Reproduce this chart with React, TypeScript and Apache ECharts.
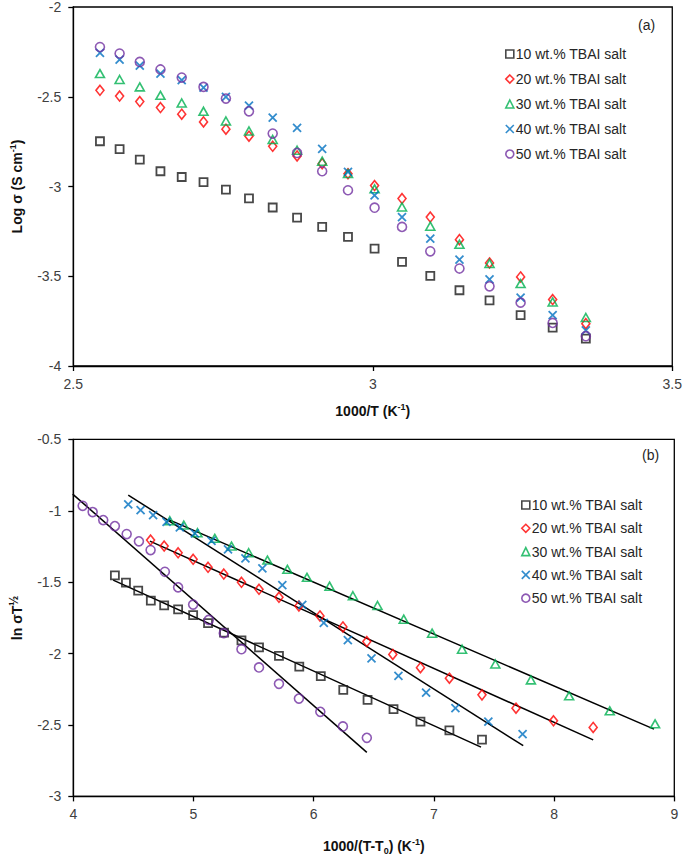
import React, { useEffect, useRef } from "react";
import * as echarts from "echarts";

// ---------- (a) Arrhenius plot ----------
const invT = [2.5445, 2.5773, 2.611, 2.6455, 2.681, 2.7174, 2.7548, 2.7933, 2.8329, 2.8736, 2.9155, 2.9586, 3.003, 3.0488, 3.096, 3.1447, 3.1949, 3.2468, 3.3003, 3.3557];
const logS10 = [-2.748, -2.792, -2.85, -2.915, -2.947, -2.976, -3.017, -3.066, -3.117, -3.173, -3.225, -3.281, -3.346, -3.42, -3.498, -3.578, -3.634, -3.717, -3.786, -3.847];
const logS20 = [-2.464, -2.496, -2.527, -2.56, -2.597, -2.64, -2.681, -2.72, -2.776, -2.83, -2.873, -2.929, -2.995, -3.067, -3.17, -3.296, -3.426, -3.504, -3.63, -3.764];
const logS30 = [-2.371, -2.404, -2.445, -2.492, -2.535, -2.581, -2.635, -2.691, -2.738, -2.798, -2.859, -2.928, -3.013, -3.114, -3.221, -3.322, -3.429, -3.541, -3.643, -3.73];
const logS40 = [-2.256, -2.293, -2.326, -2.371, -2.408, -2.449, -2.501, -2.549, -2.616, -2.673, -2.791, -2.919, -3.05, -3.17, -3.29, -3.407, -3.518, -3.619, -3.717, -3.801];
const logS50 = [-2.223, -2.259, -2.306, -2.348, -2.393, -2.445, -2.51, -2.581, -2.705, -2.813, -2.915, -3.021, -3.118, -3.225, -3.361, -3.457, -3.556, -3.647, -3.76, -3.834];

// ---------- (b) VTF plot ----------
const vx10 = [4.346, 4.438, 4.54, 4.645, 4.756, 4.872, 4.997, 5.121, 5.254, 5.399, 5.545, 5.711, 5.88, 6.059, 6.246, 6.448, 6.664, 6.888, 7.129, 7.4];
const vy10 = [-1.452, -1.503, -1.559, -1.629, -1.662, -1.69, -1.731, -1.787, -1.853, -1.908, -1.957, -2.016, -2.091, -2.158, -2.254, -2.324, -2.389, -2.476, -2.538, -2.603];
const vx20 = [4.643, 4.756, 4.872, 4.997, 5.121, 5.252, 5.399, 5.545, 5.711, 5.877, 6.052, 6.243, 6.442, 6.658, 6.888, 7.129, 7.4, 7.683, 7.995, 8.325];
const vy20 = [-1.205, -1.247, -1.294, -1.34, -1.396, -1.443, -1.501, -1.55, -1.606, -1.666, -1.736, -1.813, -1.916, -2.006, -2.099, -2.172, -2.289, -2.382, -2.471, -2.517];
const vx30 = [4.803, 4.919, 5.033, 5.177, 5.316, 5.459, 5.615, 5.781, 5.944, 6.132, 6.326, 6.531, 6.749, 6.985, 7.234, 7.511, 7.807, 8.125, 8.463, 8.84];
const vy30 = [-1.07, -1.1, -1.154, -1.193, -1.247, -1.294, -1.345, -1.41, -1.466, -1.528, -1.595, -1.663, -1.759, -1.857, -1.969, -2.073, -2.184, -2.296, -2.401, -2.492];
const vx40 = [4.457, 4.56, 4.664, 4.776, 4.886, 5.011, 5.15, 5.287, 5.432, 5.573, 5.739, 5.905, 6.084, 6.284, 6.481, 6.705, 6.935, 7.179, 7.453, 7.738];
const vy40 = [-0.955, -0.995, -1.03, -1.077, -1.116, -1.158, -1.21, -1.27, -1.333, -1.403, -1.52, -1.659, -1.785, -1.906, -2.034, -2.156, -2.273, -2.382, -2.476, -2.564];
const vx50 = [3.995, 4.078, 4.161, 4.249, 4.346, 4.444, 4.546, 4.643, 4.762, 4.872, 4.997, 5.127, 5.252, 5.399, 5.545, 5.711, 5.877, 6.055, 6.243, 6.442];
const vy50 = [-0.92, -0.965, -1.009, -1.065, -1.107, -1.163, -1.214, -1.275, -1.427, -1.536, -1.657, -1.764, -1.857, -1.969, -2.097, -2.212, -2.315, -2.408, -2.51, -2.59];

// linear fit end points (x, y)
const fit10 = [[4.332, -1.485], [7.392, -2.655]];
const fit20 = [[4.637, -1.212], [8.325, -2.604]];
const fit30 = [[4.789, -1.06], [8.831, -2.529]];
const fit40 = [[4.457, -0.89], [7.743, -2.645]];
const fit50 = [[3.995, -0.883], [6.442, -2.692]];

const seriesNames = ["10 wt.% TBAI salt", "20 wt.% TBAI salt", "30 wt.% TBAI salt", "40 wt.% TBAI salt", "50 wt.% TBAI salt"];
const topTicksX = { min: 2.5, max: 3.5, interval: 0.5 };
const topTicksY = { min: -4, max: -2, interval: 0.5 };
const botTicksX = { min: 4, max: 9, interval: 1 };
const botTicksY = { min: -3, max: -0.5, interval: 0.5 };

const COLORS = ["#1a1a1a", "#ff0000", "#00b050", "#0070c0", "#7030a0"];
const SYMBOLS = ["rect", "diamond", "triangle", "path://M0,0L10,10M0,10L10,0", "circle"];
const SIZES: any[] = [8, [8, 10], [9, 8], 8, 9];
const WIDTHS = [1.8, 1.6, 1.6, 1.8, 1.6];

const FONT = "'Liberation Sans', Arial, sans-serif";

function zip(xs: number[], ys: number[]) {
  return xs.map((x, i) => [x, ys[i]]);
}

export default function App() {
  const ref = useRef<HTMLDivElement>(null);
  useEffect(() => {
    if (!ref.current) return;
    const chart = echarts.init(ref.current, undefined, { renderer: "svg" });

    const topY = [logS10, logS20, logS30, logS40, logS50];
    const botX = [vx10, vx20, vx30, vx40, vx50];
    const botY = [vy10, vy20, vy30, vy40, vy50];
    const fits = [fit10, fit20, fit30, fit40, fit50];

    const scatter = (i: number, gi: number, data: number[][]) => ({
      type: "scatter",
      name: seriesNames[i],
      xAxisIndex: gi,
      yAxisIndex: gi,
      data,
      symbol: SYMBOLS[i],
      symbolSize: SIZES[i],
      itemStyle: { color: "transparent", borderColor: COLORS[i], borderWidth: WIDTHS[i] },
      emphasis: { disabled: true },
      z: 3,
    });

    const series: any[] = [];
    for (let i = 0; i < 5; i++) series.push(scatter(i, 0, zip(invT, topY[i])));
    for (let i = 0; i < 5; i++) {
      series.push({
        type: "line",
        name: "fit" + i,
        xAxisIndex: 1,
        yAxisIndex: 1,
        data: fits[i],
        showSymbol: false,
        symbol: "none",
        lineStyle: { color: "#000", width: 1.5 },
        z: 2,
        silent: true,
      });
    }
    for (let i = 0; i < 5; i++) series.push(scatter(i, 1, zip(botX[i], botY[i])));

    const legendData = seriesNames.map((n, i) => ({
      name: n,
      icon: SYMBOLS[i],
      itemStyle: { color: "transparent", borderColor: COLORS[i], borderWidth: 1.6 },
    }));

    const axisCommon = {
      axisLine: { show: true, onZero: false, lineStyle: { color: "#000", width: 1.3 } },
      axisTick: { show: true, inside: false, length: 5, lineStyle: { color: "#000", width: 1.3 } },
      splitLine: { show: false },
      axisLabel: { color: "#404040", fontSize: 14, fontFamily: FONT, margin: 11 },
      nameLocation: "middle",
    };
    const nameRich = {
      b: { fontSize: 14, fontWeight: "bold", fontFamily: FONT, color: "#111", lineHeight: 18 },
      sup: { fontSize: 9, fontWeight: "bold", fontFamily: FONT, color: "#111", verticalAlign: "top", lineHeight: 10 },
      sub: { fontSize: 9, fontWeight: "bold", fontFamily: FONT, color: "#111", verticalAlign: "bottom", lineHeight: 10 },
      half: { fontSize: 12, fontWeight: "bold", fontFamily: FONT, color: "#111", verticalAlign: "top", lineHeight: 12 },
    };

    const legendCommon = {
      orient: "vertical",
      itemWidth: 8,
      itemHeight: 8,
      textStyle: { fontSize: 14, fontFamily: FONT, color: "#262626", lineHeight: 14, padding: [0, 0, 0, -3] },
      selectedMode: false,
      data: legendData,
    };

    chart.setOption({
      animation: false,
      backgroundColor: "#fff",
      textStyle: { fontFamily: FONT },
      grid: [
        { left: 73.3, top: 6.7, width: 601, height: 359.3, show: true, borderColor: "#000", borderWidth: 1.3, containLabel: false },
        { left: 73.3, top: 439.4, width: 601, height: 357, show: true, borderColor: "#000", borderWidth: 1.3, containLabel: false },
      ],
      xAxis: [
        {
          ...axisCommon,
          type: "value",
          gridIndex: 0,
          ...topTicksX,
          name: "{b|1000/T (K}{sup|-1}{b|)}",
          nameGap: 36,
          nameTextStyle: { rich: nameRich },
        },
        {
          ...axisCommon,
          type: "value",
          gridIndex: 1,
          ...botTicksX,
          name: "{b|1000/(T-T}{sub|0}{b|) (K}{sup|-1}{b|)}",
          nameGap: 41,
          nameTextStyle: { rich: nameRich },
        },
      ],
      yAxis: [
        {
          ...axisCommon,
          type: "value",
          gridIndex: 0,
          ...topTicksY,
          name: "{b|Log σ (S cm}{sup|-1}{b|)}",
          nameGap: 47,
          nameTextStyle: { rich: nameRich },
          axisLabel: { ...axisCommon.axisLabel, margin: 12 },
        },
        {
          ...axisCommon,
          type: "value",
          gridIndex: 1,
          ...botTicksY,
          name: "{b|ln σT}{half|½}",
          nameGap: 47,
          nameTextStyle: { rich: nameRich },
          axisLabel: { ...axisCommon.axisLabel, margin: 12 },
        },
      ],
      legend: [
        { ...legendCommon, left: 500, top: 42, itemGap: 11 },
        { ...legendCommon, left: 516, top: 493, itemGap: 9.3 },
      ],
      graphic: [
        { type: "text", left: 638, top: 18, style: { text: "(a)", fontSize: 14, fontFamily: FONT, fill: "#262626" } },
        { type: "text", left: 642, top: 448, style: { text: "(b)", fontSize: 14, fontFamily: FONT, fill: "#262626" } },
      ],
      series,
    });

    return () => chart.dispose();
  }, []);

  return (
    <div
      ref={ref}
      style={{ position: "fixed", left: 0, top: 0, width: 685, height: 860, background: "#fff" }}
    />
  );
}
